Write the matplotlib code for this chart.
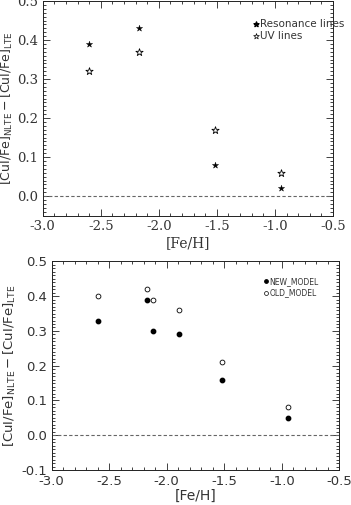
import numpy as np
import matplotlib
matplotlib.use("Agg")
from matplotlib import pyplot as plt
from matplotlib.ticker import MultipleLocator

# top panel: Cu I lines
feh_top = [-2.60, -2.17, -1.52, -0.95]
res_lines = [0.39, 0.43, 0.08, 0.02]
uv_lines = [0.32, 0.37, 0.17, 0.06]

# bottom panel: models
feh_bot = [-2.60, -2.17, -2.12, -1.89, -1.52, -0.95]
new_model = [0.33, 0.39, 0.30, 0.29, 0.16, 0.05]
old_model = [0.40, 0.42, 0.39, 0.36, 0.21, 0.08]

fg = '#222222'
tc = '#333333'

fig = plt.figure(figsize=(3.51, 5.05), dpi=100)

def style(ax, fam):
    ax.set_xlim(-3.0, -0.5)
    ax.xaxis.set_major_locator(MultipleLocator(0.5))
    ax.xaxis.set_minor_locator(MultipleLocator(0.1))
    ax.yaxis.set_major_locator(MultipleLocator(0.1))
    ax.yaxis.set_minor_locator(MultipleLocator(0.01))
    ax.yaxis.set_major_formatter(plt.FormatStrFormatter('%.1f'))
    ax.xaxis.set_major_formatter(plt.FormatStrFormatter('%.1f'))
    ax.tick_params(which='both', direction='in', top=True, right=True,
                   colors=fg, labelsize=9.5, width=0.6, labelcolor=tc)
    ax.tick_params(which='major', length=5)
    ax.tick_params(which='minor', length=2.5)
    for s in ax.spines.values():
        s.set_linewidth(0.7)
        s.set_color(fg)
    for lab in ax.get_xticklabels() + ax.get_yticklabels():
        lab.set_family(fam)
    ax.axhline(0.0, color='#666666', ls=(0, (3, 2)), lw=0.8)

# --- top
ax1 = fig.add_axes([0.1217, 0.573, 0.827, 0.425])
ax1.scatter(feh_top, res_lines, marker='*', s=22, c='black', linewidths=0.3)
ax1.scatter(feh_top, uv_lines, marker='*', s=30, facecolors='white',
            edgecolors='black', linewidths=0.6)
ax1.set_ylim(-0.05, 0.5)
style(ax1, 'DejaVu Serif')
ax1.set_xlabel('[Fe/H]', family='DejaVu Serif', fontsize=10, color=tc, labelpad=2)
ax1.set_ylabel(r'$[\mathrm{CuI/Fe}]_{\mathrm{NLTE}}-[\mathrm{CuI/Fe}]_{\mathrm{LTE}}$',
               fontsize=9, color=tc, labelpad=1)
ax1.scatter([0.735], [0.895], transform=ax1.transAxes, marker='*', s=14, c='black')
ax1.scatter([0.735], [0.838], transform=ax1.transAxes, marker='*', s=18,
            facecolors='white', edgecolors='black', linewidths=0.5)
ax1.text(0.75, 0.895, 'Resonance lines', transform=ax1.transAxes, fontsize=7.5,
         va='center', color=tc)
ax1.text(0.75, 0.838, 'UV lines', transform=ax1.transAxes, fontsize=7.5,
         va='center', color=tc)

# --- bottom
ax2 = fig.add_axes([0.147, 0.0693, 0.820, 0.413])
ax2.scatter(feh_bot, new_model, marker='o', s=10, c='black')
ax2.scatter(feh_bot, old_model, marker='o', s=12, facecolors='white',
            edgecolors='black', linewidths=0.6)
ax2.set_ylim(-0.1, 0.5)
style(ax2, 'DejaVu Sans')
ax2.set_xlabel('[Fe/H]', fontsize=10, color=tc, labelpad=1)
ax2.set_ylabel(r'$[\mathsf{CuI/Fe}]_{\mathsf{NLTE}}-[\mathsf{CuI/Fe}]_{\mathsf{LTE}}$',
               fontsize=9.5, color=tc, labelpad=2)
ax2.scatter([0.745], [0.905], transform=ax2.transAxes, marker='o', s=6, c='black')
ax2.scatter([0.745], [0.85], transform=ax2.transAxes, marker='o', s=8,
            facecolors='white', edgecolors='black', linewidths=0.5)
ax2.text(0.757, 0.905, 'NEW_MODEL', transform=ax2.transAxes, fontsize=5.5,
         va='center', color=tc)
ax2.text(0.757, 0.85, 'OLD_MODEL', transform=ax2.transAxes, fontsize=5.5,
         va='center', color=tc)

fig.savefig('out.png', dpi=100)
